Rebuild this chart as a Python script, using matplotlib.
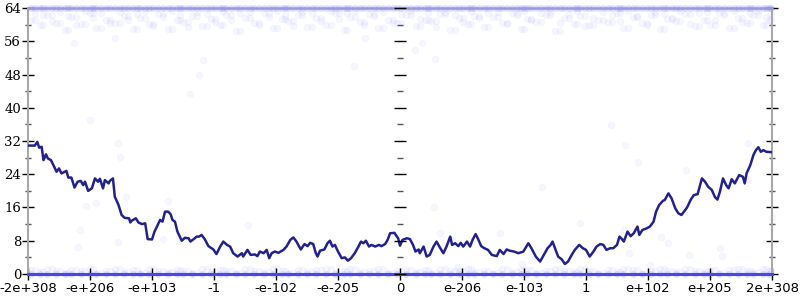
import matplotlib
matplotlib.use("Agg")
import matplotlib.pyplot as plt
from matplotlib.ticker import MultipleLocator

# x positions are tick-slot units: -6 .. 6 maps to -2e+308 .. 2e+308
tick_pos = [-6, -5, -4, -3, -2, -1, 0, 1, 2, 3, 4, 5, 6]
tick_lab = ['-2e+308', '-e+206', '-e+103', '-1', '-e-102', '-e-205', '0',
            'e-206', 'e-103', '1', 'e+102', 'e+205', '2e+308']

line_x = [-6.00, -5.89, -5.85, -5.82, -5.78, -5.75, -5.71, -5.68, -5.63, -5.59,
          -5.54, -5.50, -5.46, -5.38, -5.35, -5.30, -5.25, -5.20, -5.15, -5.11,
          -5.08, -5.03, -4.97, -4.92, -4.87, -4.84, -4.79, -4.76, -4.70, -4.68,
          -4.63, -4.60, -4.54, -4.49, -4.44, -4.37, -4.35, -4.33, -4.26, -4.22,
          -4.16, -4.11, -4.07, -4.00, -3.96, -3.92, -3.87, -3.83, -3.79, -3.74,
          -3.70, -3.67, -3.63, -3.59, -3.52, -3.47, -3.41, -3.38, -3.31, -3.28,
          -3.24, -3.20, -3.15, -3.09, -3.01, -2.96, -2.90, -2.85, -2.79, -2.74,
          -2.69, -2.62, -2.55, -2.53, -2.46, -2.41, -2.34, -2.30, -2.26, -2.20,
          -2.15, -2.11, -2.07, -2.02, -1.96, -1.88, -1.83, -1.77, -1.72, -1.67,
          -1.60, -1.54, -1.49, -1.45, -1.40, -1.36, -1.33, -1.29, -1.22, -1.17,
          -1.13, -1.09, -1.05, -1.00, -0.94, -0.89, -0.84, -0.79, -0.73, -0.67,
          -0.63, -0.59, -0.55, -0.50, -0.46, -0.40, -0.34, -0.30, -0.24, -0.20,
          -0.16, -0.09, -0.05, -0.03, 0.00, 0.04, 0.11, 0.16, 0.21, 0.25,
          0.30, 0.32, 0.38, 0.43, 0.48, 0.54, 0.59, 0.65, 0.70, 0.75,
          0.81, 0.84, 0.89, 0.94, 0.98, 1.02, 1.08, 1.13, 1.17, 1.22,
          1.26, 1.31, 1.36, 1.42, 1.48, 1.56, 1.61, 1.67, 1.72, 1.77,
          1.84, 1.91, 1.99, 2.07, 2.12, 2.19, 2.26, 2.32, 2.38, 2.43,
          2.46, 2.50, 2.55, 2.61, 2.66, 2.71, 2.77, 2.82, 2.89, 2.95,
          3.00, 3.06, 3.12, 3.17, 3.23, 3.28, 3.33, 3.39, 3.44, 3.50,
          3.54, 3.58, 3.61, 3.67, 3.72, 3.77, 3.83, 3.86, 3.91, 3.98,
          4.03, 4.09, 4.13, 4.18, 4.24, 4.27, 4.33, 4.38, 4.44, 4.49,
          4.54, 4.57, 4.63, 4.69, 4.74, 4.80, 4.87, 4.92, 4.97, 5.03,
          5.08, 5.12, 5.16, 5.21, 5.26, 5.30, 5.35, 5.40, 5.47, 5.53,
          5.56, 5.59, 5.65, 5.70, 5.74, 5.78, 5.82, 5.86, 5.91, 6.00]
line_y = [30.9, 30.9, 31.8, 30.4, 30.6, 27.4, 28.8, 27.8, 27.4, 26.2,
          24.6, 25.4, 24.2, 24.8, 23.2, 23.2, 20.8, 22.2, 22.4, 21.4,
          22.2, 20.0, 20.6, 23.0, 22.2, 22.9, 20.6, 22.6, 21.8, 22.4,
          23.0, 18.6, 16.6, 14.2, 13.5, 13.4, 12.4, 12.8, 13.4, 12.4,
          12.0, 12.2, 8.4, 8.3, 10.2, 11.4, 13.0, 12.6, 15.0, 15.0,
          14.4, 13.0, 12.6, 10.2, 8.0, 8.7, 8.6, 7.8, 8.6, 9.0,
          9.0, 9.4, 8.4, 6.7, 5.9, 4.8, 6.6, 7.8, 7.0, 6.6,
          5.0, 4.2, 5.0, 4.2, 5.8, 4.6, 4.7, 4.3, 5.4, 5.0,
          5.8, 3.8, 5.0, 5.4, 5.1, 5.8, 6.6, 8.2, 8.8, 7.8,
          5.9, 7.2, 6.7, 7.5, 7.2, 5.1, 4.2, 5.6, 5.9, 7.4,
          8.0, 6.6, 7.0, 5.4, 3.8, 4.0, 3.2, 3.8, 5.0, 6.6,
          7.8, 7.4, 8.0, 6.6, 7.0, 6.6, 7.0, 6.7, 7.2, 8.2,
          9.8, 9.9, 9.0, 8.6, 6.8, 8.2, 8.6, 8.4, 7.0, 5.4,
          5.9, 5.0, 6.6, 4.2, 4.6, 6.6, 7.8, 6.2, 5.0, 6.6,
          9.0, 7.0, 7.4, 6.7, 7.5, 6.6, 7.8, 6.6, 8.2, 9.6,
          8.4, 6.7, 6.2, 5.8, 4.6, 4.3, 5.8, 4.8, 5.9, 5.6,
          5.4, 5.0, 5.4, 7.4, 6.2, 4.2, 3.0, 4.6, 6.2, 7.0,
          7.8, 6.2, 4.2, 3.5, 2.4, 3.0, 4.6, 5.8, 7.0, 6.2,
          5.8, 4.2, 5.4, 6.6, 7.2, 7.0, 5.8, 6.2, 6.2, 7.0,
          9.0, 8.4, 7.8, 10.2, 9.1, 9.8, 11.4, 9.4, 10.6, 11.0,
          11.4, 12.6, 15.0, 16.6, 17.6, 17.8, 19.4, 18.2, 15.8, 14.6,
          14.2, 14.8, 16.0, 17.9, 19.0, 19.2, 23.0, 22.2, 21.0, 20.2,
          18.5, 17.9, 19.8, 23.0, 21.4, 20.6, 22.8, 21.8, 23.8, 23.4,
          21.8, 24.2, 26.2, 28.6, 29.8, 30.5, 29.4, 29.8, 29.4, 29.3]

# faint sample points, sparse middle region
mid_x = [-5.16, -4.55, -4.52, -4.42, -5.06, -4.90, -3.74, -5.00, -3.56, -5.19,
         -4.55, -3.82, -2.45, -3.39, -3.24, -3.18, -0.74, -0.56, 0.24, 0.35,
         0.55, 0.65, 0.84, 1.61, 1.97, 0.56, 0.92, 2.29, 2.90, 3.61,
         3.69, 4.03, 3.40, 3.63, 3.84, 4.61, 5.60, 5.62, 6.00, 4.21,
         4.32, 4.66, 5.16, 5.19, -5.26, -4.60]
mid_y = [10.6, 31.5, 28.2, 18.5, 16.4, 17.1, 17.6, 37.0, 8.7, 6.5,
         7.7, 8.4, 11.8, 43.3, 47.9, 51.5, 50.0, 56.8, 53.9, 55.6,
         16.1, 9.9, 8.2, 9.9, 2.4, 51.7, 1.7, 20.9, 12.3, 10.6,
         5.1, 2.2, 35.8, 31.0, 26.9, 25.0, 22.9, 31.5, 13.7, 8.9,
         7.5, 4.6, 6.3, 4.3, 55.6, 56.8]

# dense cloud just under the top
top_x = [-5.95, -5.80, -5.70, -5.55, -5.40, -5.30, -5.15, -5.00, -4.90, -4.75,
         -4.60, -4.45, -4.30, -4.20, -4.05, -3.90, -3.75, -3.60, -3.50, -3.35,
         -3.20, -3.05, -2.90, -2.80, -2.65, -2.50, -2.35, -2.20, -2.05, -1.90,
         -1.80, -1.65, -1.50, -1.35, -1.20, -1.05, -0.90, -0.80, -0.65, -0.50,
         -0.35, -0.20, -0.05, 0.10, 0.25, 0.40, 0.50, 0.65, 0.80, 0.95,
         1.10, 1.20, 1.35, 1.50, 1.65, 1.80, 1.95, 2.05, 2.20, 2.35,
         2.50, 2.65, 2.80, 2.90, 3.05, 3.20, 3.35, 3.50, 3.60, 3.75,
         3.90, 4.05, 4.20, 4.30, 4.45, 4.60, 4.75, 4.90, 5.00, 5.15,
         5.30, 5.45, 5.60, 5.70, 5.85, 5.95]
top_x2 = [-5.88, -5.76, -5.62, -5.48, -5.35, -5.22, -5.08, -4.95, -4.82, -4.68,
          -4.52, -4.38, -4.25, -4.12, -3.98, -3.82, -3.68, -3.55, -3.42, -3.28,
          -3.12, -2.98, -2.85, -2.72, -2.58, -2.42, -2.28, -2.12, -1.98, -1.85,
          -1.72, -1.58, -1.42, -1.28, -1.12, -0.98, -0.85, -0.72, -0.58, -0.42,
          -0.28, -0.12, 0.02, 0.18, 0.32, 0.45, 0.58, 0.72, 0.88, 1.02,
          1.15, 1.28, 1.42, 1.58, 1.72, 1.88, 2.00, 2.12, 2.28, 2.42,
          2.58, 2.72, 2.85, 2.98, 3.12, 3.28, 3.42, 3.55, 3.68, 3.82,
          3.98, 4.12, 4.25, 4.38, 4.52, 4.68, 4.82, 4.95, 5.08, 5.22,
          5.38, 5.52, 5.65, 5.78, 5.90, 5.98]
top_y1 = [61.2, 59.8, 62.3, 60.5, 58.6, 61.8, 60.1, 62.8, 59.3, 61.0,
          60.4, 62.1, 59.0, 61.5, 60.2, 62.6, 58.9, 61.1, 60.7, 62.0,
          59.6, 61.4, 60.0, 62.4, 58.4, 61.7, 60.3, 62.9, 59.2, 61.3,
          60.8, 62.2, 59.5, 61.6, 60.0, 62.7, 58.8, 61.9, 60.6, 62.5,
          59.1, 61.2, 60.4, 62.3, 59.7, 61.0, 60.9, 62.6, 58.7, 61.5,
          60.2, 62.0, 59.4, 61.8, 60.5, 62.8, 59.0, 61.3, 60.7, 62.4,
          58.5, 61.6, 60.1, 62.1, 59.8, 61.1, 60.6, 62.7, 59.3, 61.9,
          60.3, 62.2, 58.9, 61.4, 60.8, 62.5, 59.6, 61.0, 60.0, 62.9,
          59.2, 61.7, 60.4, 62.3, 59.9, 61.2]
top_y2 = [62.9, 62.4, 60.9, 63.1, 62.0, 59.9, 63.3, 61.6, 62.7, 60.3,
          63.0, 61.2, 62.5, 63.2, 59.7, 61.9, 63.4, 62.2, 59.4, 63.0,
          62.6, 60.6, 63.3, 61.1, 62.8, 63.1, 60.0, 61.8, 63.4, 62.3,
          59.6, 63.0, 62.7, 60.8, 63.2, 61.4, 62.9, 63.3, 59.8, 62.1,
          63.0, 60.5, 62.6, 63.4, 61.3, 62.8, 59.5, 63.1, 62.4, 60.7,
          63.3, 61.5, 62.9, 63.0, 60.2, 62.2, 63.4, 61.0, 62.7, 63.1,
          60.4, 62.5, 63.2, 59.6, 61.7, 63.0, 62.3, 60.9, 63.4, 62.0,
          59.9, 63.1, 62.6, 61.6, 63.3, 60.1, 62.8, 63.0, 61.2, 62.4,
          63.2, 60.6, 62.9, 63.4, 61.8, 62.5]
top_edge_y = [64.0] * len(top_x)

# dense cloud on the floor
bot_y1 = [0.9, 0.4, 1.2, 0.6, 0.2, 1.0, 0.7, 1.3, 0.3, 0.8,
          1.1, 0.5, 0.9, 0.2, 1.2, 0.6, 0.4, 1.0, 0.8, 0.3,
          1.3, 0.5, 0.9, 0.7, 0.2, 1.1, 0.6, 0.4, 1.2, 0.8,
          0.3, 1.0, 0.5, 0.9, 1.3, 0.2, 0.7, 1.1, 0.4, 0.6,
          1.2, 0.3, 0.8, 1.0, 0.5, 0.9, 0.2, 1.3, 0.6, 0.7,
          1.1, 0.4, 0.8, 0.3, 1.2, 0.5, 1.0, 0.9, 0.2, 0.6,
          1.3, 0.7, 0.4, 1.1, 0.8, 0.3, 1.0, 0.5, 1.2, 0.9,
          0.2, 0.6, 1.1, 0.7, 0.4, 1.3, 0.8, 0.5, 1.0, 0.3,
          0.9, 1.2, 0.6, 0.4, 1.1, 0.7]
bot_edge_y = [0.0] * len(top_x)

fig = plt.figure(figsize=(8, 3), dpi=100)
ax = fig.add_axes([0.035, 0.0867, 0.93, 0.8866])

pt = dict(s=24, facecolor='#3030ff', edgecolor='#3030ff', alpha=0.04,
          linewidths=0.5, clip_on=False)
ax.scatter(mid_x, mid_y, **pt)
ax.scatter(top_x, top_y1, **pt)
ax.scatter(top_x2, top_y2, **pt)
ax.scatter(top_x2, top_y1, **pt)
ax.scatter(top_x, top_edge_y, s=24, color='#2020ff', alpha=0.14, linewidths=0, clip_on=False)
ax.scatter(top_x2, top_edge_y, s=24, color='#2020ff', alpha=0.14, linewidths=0, clip_on=False)
ax.scatter(top_x, bot_y1, **pt)
ax.scatter(top_x2, bot_y1, **pt)
ax.scatter(top_x, bot_edge_y, s=24, color='#2020ff', alpha=0.14, linewidths=0, clip_on=False)

ax.plot(line_x, line_y, color='#22228c', linewidth=1.8, zorder=5)

ax.set_xlim(-6, 6)
ax.set_ylim(0, 64)
ax.set_xticks(tick_pos)
ax.set_xticklabels(tick_lab, fontsize=9.5, family='DejaVu Sans')
ax.yaxis.set_major_locator(MultipleLocator(8))
ax.yaxis.set_minor_locator(MultipleLocator(4))
for lab in ax.get_yticklabels():
    lab.set_family('DejaVu Serif')
    lab.set_fontsize(9.5)

for s in ['left', 'right']:
    ax.spines[s].set_color('#a8a8a8')
    ax.spines[s].set_linewidth(1.5)
ax.spines['top'].set_color('#9a9ad8')
ax.spines['top'].set_linewidth(1.8)
ax.spines['bottom'].set_color('#4848e8')
ax.spines['bottom'].set_linewidth(2.2)

ax.tick_params(axis='y', which='major', direction='inout', length=8, width=1,
               color='black', left=True, right=True, pad=1)
ax.tick_params(axis='y', which='minor', direction='inout', length=4, width=1,
               color='#555555', left=True, right=True)
ax.tick_params(axis='x', which='major', direction='inout', length=8, width=1,
               color='black', pad=2)

# centre axis at x = 0
ax2 = fig.add_axes(ax.get_position(), sharex=ax, sharey=ax, frameon=False)
ax2.patch.set_visible(False)
ax2.spines['left'].set_visible(True)
ax2.spines['left'].set_position(('data', 0))
ax2.spines['left'].set_color('#a8a8a8')
ax2.spines['left'].set_linewidth(1.5)
ax2.tick_params(axis='y', which='major', direction='inout', length=8, width=1,
                color='black', labelleft=False)
ax2.tick_params(axis='y', which='minor', direction='inout', length=4, width=1,
                color='#555555')
ax2.xaxis.set_visible(False)

fig.savefig('out.png', dpi=100)
